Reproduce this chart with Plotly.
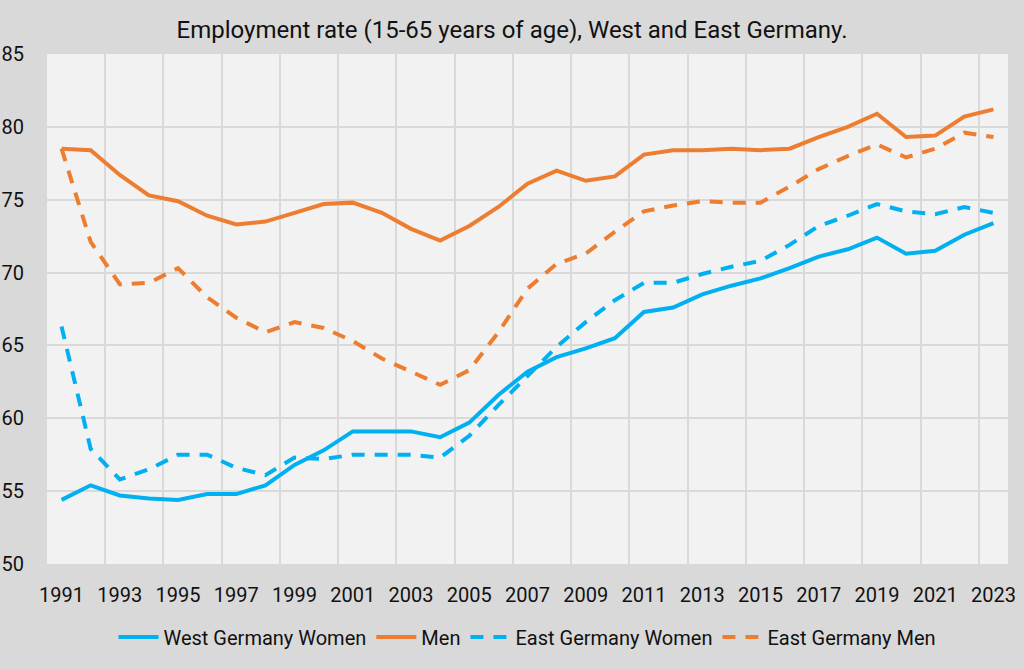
import plotly.graph_objects as go

years = list(range(1991, 2024))

west_women = [54.4, 55.4, 54.7, 54.5, 54.4, 54.8, 54.8, 55.4, 56.8, 57.8,
              59.1, 59.1, 59.1, 58.7, 59.7, 61.6, 63.2, 64.2, 64.8, 65.5,
              67.3, 67.6, 68.5, 69.1, 69.6, 70.3, 71.1, 71.6, 72.4, 71.3,
              71.5, 72.6, 73.4]

men = [78.5, 78.4, 76.7, 75.3, 74.9, 73.9, 73.3, 73.5, 74.1, 74.7,
       74.8, 74.1, 73.0, 72.2, 73.2, 74.5, 76.1, 77.0, 76.3, 76.6,
       78.1, 78.4, 78.4, 78.5, 78.4, 78.5, 79.3, 80.0, 80.9, 79.3,
       79.4, 80.7, 81.2]

east_women = [66.3, 57.9, 55.8, 56.5, 57.5, 57.5, 56.6, 56.1, 57.3, 57.2,
              57.5, 57.5, 57.5, 57.3, 58.8, 60.9, 62.9, 64.9, 66.6, 68.1,
              69.3, 69.3, 69.9, 70.4, 70.8, 71.9, 73.2, 73.9, 74.7, 74.2,
              74.0, 74.5, 74.1]

east_men = [78.5, 72.1, 69.2, 69.3, 70.3, 68.3, 66.9, 65.9, 66.6, 66.2,
            65.3, 64.1, 63.2, 62.3, 63.3, 65.9, 68.9, 70.6, 71.3, 72.8,
            74.2, 74.6, 74.9, 74.8, 74.8, 75.9, 77.1, 78.0, 78.8, 77.9,
            78.5, 79.6, 79.3]

series_names = ["West Germany Women", "Men", "East Germany Women", "East Germany Men"]
tick_years = list(range(1991, 2024, 2))

BLUE = "#00b0f0"
ORANGE = "#ed7d31"
FONT = "Roboto"
TEXT = "#111111"

fig = go.Figure()
styles = [(west_women, BLUE, "solid"), (men, ORANGE, "solid"),
          (east_women, BLUE, "13px,10px"), (east_men, ORANGE, "13px,10px")]
for name, (vals, col, dash) in zip(series_names, styles):
    fig.add_trace(go.Scatter(x=years, y=vals, mode="lines", name=name,
                             line=dict(color=col, width=4, dash=dash)))

fig.update_layout(
    width=1024, height=669,
    margin=dict(l=47, r=16, t=54, b=103),
    paper_bgcolor="#d9d9d9",
    plot_bgcolor="#f2f2f2",
    font=dict(family=FONT, size=18, color=TEXT),
    title=dict(text="Employment rate (15-65 years of age), West and East Germany.",
               x=0.5, xanchor="center", xref="container",
               y=1 - 30 / 669, yref="container", yanchor="middle",
               font=dict(family=FONT, size=24, color=TEXT)),
    showlegend=True,
    legend=dict(orientation="h", x=0.5, xanchor="center", y=-0.143, yanchor="middle",
                font=dict(family=FONT, size=20, color=TEXT),
                bgcolor="rgba(0,0,0,0)", itemwidth=40, tracegroupgap=0),
)

fig.update_xaxes(range=[1990.5, 2023.5], tickmode="array", tickvals=tick_years,
                 ticktext=[str(y) for y in tick_years], showgrid=False, automargin=False,
                 zeroline=False, showline=False, ticks="", ticklabelstandoff=17,
                 tickfont=dict(size=20),
                 minor=dict(tickmode="array", tickvals=[1990.5 + 2 * k for k in range(17)],
                            showgrid=True, gridcolor="#d9d9d9", gridwidth=1.5, ticks=""))
fig.update_yaxes(range=[50, 85], tickmode="array", tickvals=list(range(50, 90, 5)),
                 showgrid=True, gridcolor="#d9d9d9", gridwidth=1.5, automargin=False,
                 zeroline=False, showline=False, ticks="", ticklabelstandoff=22,
                 tickfont=dict(size=20))

fig.write_html("out.html")
